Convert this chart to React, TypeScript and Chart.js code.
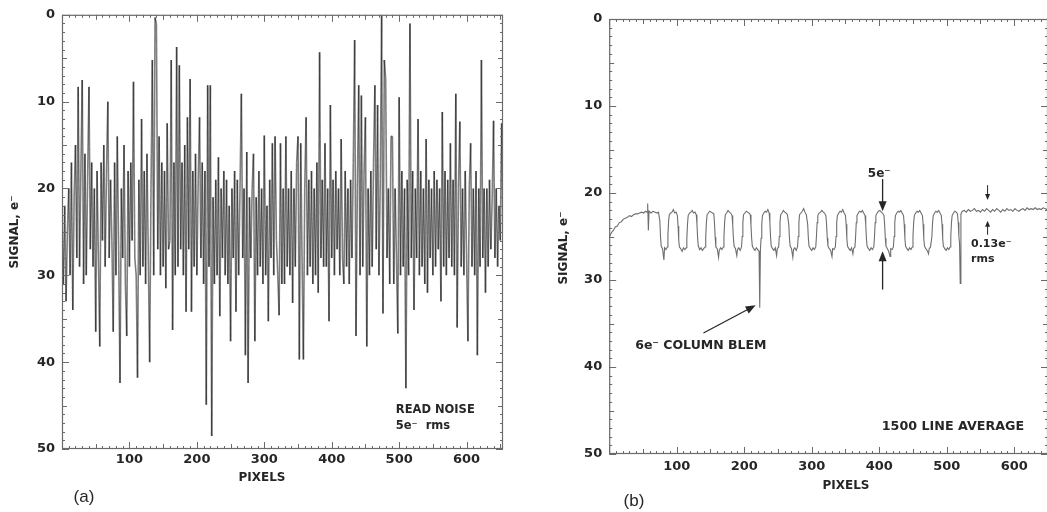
import React, { useEffect, useRef } from "react";
import { Chart, registerables } from "chart.js";

Chart.register(...registerables);

// ---------- DATA ----------
// (a) read noise: one value every PIXEL_STEP pixels, starting at pixel 0
const PIXEL_STEP = 2;
const noiseSignal: number[] = [
  24, 31, 22, 33, 25, 20, 30, 17, 34, 21,
  15, 28, 8.3, 29, 18, 7.5, 31, 16, 30, 19,
  8.3, 27, 17, 29, 20, 36.5, 18, 28, 38.2, 17,
  26, 15, 29, 18, 10, 28, 19, 26, 36.5, 17,
  30, 14, 27, 42.4, 20, 28, 15, 31, 37, 18,
  29, 17, 26, 7.7, 28, 30, 41.8, 19, 30, 12,
  29, 18, 31, 16, 28, 40, 20, 5.2, 30, 0.3,
  1, 27, 14, 30, 17, 29, 18, 31.5, 12.5, 27,
  26, 5.2, 36.3, 17, 30, 3.7, 29, 5.8, 27, 17,
  30, 15, 34.2, 11.8, 27, 7.4, 34.2, 18, 29, 16,
  30, 19, 11.8, 28, 17, 31, 18, 44.9, 8.1, 29,
  8.1, 48.5, 21, 31, 19, 30, 16.4, 34.7, 20, 28,
  18, 30, 19, 31, 22, 37.6, 20, 28, 18, 34.2,
  19, 30, 20, 9.1, 28, 20, 39.2, 15.8, 42.4, 21,
  28, 20, 16, 37.6, 21, 30, 18, 29, 20, 31,
  13.9, 30, 22, 35.3, 19, 28, 14.8, 30, 14, 26,
  30, 34.6, 14.8, 31, 20, 31, 14, 29, 20, 30,
  18, 33.2, 20, 29, 17, 14, 39.7, 14.8, 28, 39.7,
  20, 11.8, 30, 19, 29, 18, 31, 20, 30, 17,
  32, 4.3, 28, 19, 29, 14.8, 29, 20, 35.3, 10.4,
  28, 19, 30, 18, 27, 20, 30, 14.3, 28, 31,
  18, 29, 20, 31, 19, 28, 17, 2.9, 37, 20,
  8.1, 30, 9.3, 29, 18, 11.8, 38.2, 20, 30, 18,
  29, 17, 8.1, 27, 10.4, 30, 19, 0, 34.4, 5.2,
  7.4, 28, 20, 31, 14, 14, 31, 20, 28, 36.7,
  9.5, 30, 18, 29, 20, 43, 19, 30, 1, 28,
  18, 34, 20, 28, 12, 30, 18, 29, 20, 31,
  14.3, 32, 19, 28, 20, 30, 18, 29, 19, 27,
  20, 33, 11.2, 29, 18, 30, 19, 28, 14.8, 29,
  19, 30, 9.1, 36, 20, 12.3, 29, 20, 30, 18,
  28, 37.6, 20, 14.8, 29, 20, 30, 18, 39.2, 20,
  29, 5.2, 28, 20, 32, 20, 29, 19, 27, 21,
  12.2, 28, 20, 29, 22, 26, 12.5, 25,
];

// (b) 1500 line average: [pixel, signal e-]
const signalTrace: [number, number][] = [
  [0, 25.1], [3, 24.6], [6, 24.3], [9, 23.9], [12, 23.8], [15, 23.4], [18, 23.3], [21, 23.0],
  [24, 22.9], [27, 22.8], [30, 22.6], [33, 22.7], [36, 22.5], [39, 22.4], [42, 22.4], [45, 22.3],
  [48, 22.2], [51, 22.3], [54, 22.1], [56, 22.2], [57, 21.2], [58, 24.3], [59, 22.1], [62, 22.3],
  [65, 22.1], [68, 22.2], [71, 22.3], [73, 22.2],
  [75, 23.2], [76, 25.0], [77, 26.1], [79, 26.4], [81, 27.7], [82, 26.3], [84, 26.5], [86, 26.2], [87, 24.8], [88, 23.2], [89, 22.5],
  [91, 22.3], [93, 22.2], [95, 21.9], [97, 22.3], [99, 22.2], [101, 22.6], [102, 23.8], [103, 25.4], [104, 26.2],
  [106, 26.4], [108, 26.7], [110, 26.3], [112, 26.5], [114, 26.3], [115, 25.2], [116, 23.6], [117, 22.6],
  [119, 22.3], [121, 22.2], [123, 22.0], [125, 22.3], [127, 22.2], [129, 22.5], [130, 23.6], [131, 25.2], [132, 26.1],
  [134, 26.5], [136, 26.3], [138, 26.6], [140, 26.4], [142, 26.2], [143, 25.0], [144, 23.4], [145, 22.5],
  [147, 22.3], [149, 22.1], [151, 22.2], [153, 22.3], [155, 22.4], [156, 23.5], [157, 25.1], [158, 26.2],
  [160, 26.4], [162, 27.4], [163, 26.6], [165, 26.3], [167, 26.5], [169, 26.2], [170, 25.0], [171, 23.4], [172, 22.5],
  [174, 22.3], [176, 22.0], [178, 22.2], [180, 22.3], [182, 22.6], [183, 23.7], [184, 25.2], [185, 26.1],
  [187, 26.4], [189, 27.2], [190, 26.5], [192, 26.3], [194, 26.6], [196, 26.2], [197, 25.0], [198, 23.4], [199, 22.5],
  [201, 22.3], [203, 22.1], [205, 22.2], [207, 22.3], [209, 22.5], [210, 23.7], [211, 25.2], [212, 26.1],
  [214, 26.4], [216, 26.6], [218, 26.3], [220, 26.5], [222, 26.7], [223, 33.2], [224, 26.5], [225, 25.2], [226, 23.6], [227, 22.6],
  [229, 22.3], [231, 22.1], [233, 22.2], [235, 21.9], [237, 22.3], [238, 23.4], [239, 25.0], [240, 26.1],
  [242, 26.4], [244, 26.6], [246, 26.3], [248, 27.2], [249, 26.4], [251, 26.2], [252, 25.0], [253, 23.4], [254, 22.5],
  [256, 22.3], [258, 22.0], [260, 22.2], [262, 22.3], [264, 22.5], [266, 23.6], [267, 25.2], [268, 26.1],
  [270, 26.4], [272, 27.4], [273, 26.5], [275, 26.3], [277, 26.6], [279, 26.2], [280, 25.0], [281, 23.4], [282, 22.5],
  [284, 22.3], [286, 22.1], [288, 21.8], [290, 22.2], [292, 22.5], [294, 23.6], [295, 25.2], [296, 26.1],
  [298, 26.4], [300, 26.6], [302, 26.3], [304, 26.5], [306, 26.2], [307, 25.0], [308, 23.4], [309, 22.6],
  [311, 22.3], [313, 22.2], [315, 22.0], [317, 22.2], [319, 22.3], [321, 22.6], [322, 23.6], [323, 25.2], [324, 26.1],
  [326, 26.4], [328, 26.6], [330, 27.3], [331, 26.4], [333, 26.5], [335, 26.2], [336, 25.0], [337, 23.4], [338, 22.6],
  [340, 22.3], [342, 22.1], [344, 22.2], [346, 21.9], [348, 22.3], [350, 22.6], [351, 23.6], [352, 25.2], [353, 26.1],
  [355, 26.4], [357, 26.6], [359, 26.3], [361, 27.0], [362, 26.4], [364, 26.2], [365, 25.0], [366, 23.4], [367, 22.6],
  [369, 22.3], [371, 22.1], [373, 22.2], [375, 22.0], [377, 22.3], [379, 22.6], [380, 23.6], [381, 25.2], [382, 26.1],
  [384, 26.4], [386, 26.6], [388, 26.3], [390, 26.5], [392, 26.2], [393, 25.0], [394, 23.4], [395, 22.6],
  [397, 22.3], [399, 22.1], [401, 22.0], [403, 22.2], [405, 22.3], [407, 22.6], [408, 23.6], [409, 25.2], [410, 26.1],
  [412, 26.4], [414, 26.7], [416, 27.3], [417, 26.4], [419, 26.5], [421, 26.2], [422, 25.0], [423, 23.4], [424, 22.6],
  [426, 22.3], [428, 22.1], [430, 22.2], [432, 22.0], [434, 22.3], [436, 22.6], [437, 23.6], [438, 25.2], [439, 26.1],
  [441, 26.4], [443, 26.6], [445, 26.3], [447, 26.5], [449, 26.2], [450, 25.0], [451, 23.4], [452, 22.6],
  [454, 22.3], [456, 22.1], [458, 22.2], [460, 22.0], [462, 22.3], [464, 22.6], [465, 23.6], [466, 25.2], [467, 26.1],
  [469, 26.4], [471, 26.6], [473, 27.0], [474, 26.4], [476, 26.2], [478, 25.0], [479, 23.4], [480, 22.6],
  [482, 22.3], [484, 22.1], [486, 22.2], [488, 22.0], [490, 22.3], [492, 22.6], [493, 23.6], [494, 25.2], [495, 26.1],
  [497, 26.4], [499, 26.6], [501, 26.3], [503, 26.5], [505, 26.2], [506, 25.0], [507, 23.4], [508, 22.6],
  [510, 22.3], [512, 22.1], [514, 22.2], [516, 22.4], [517, 23.4], [518, 25.0], [519, 25.8], [520, 30.4], [521, 22.4],
  [523, 22.1], [526, 22.0], [529, 22.2], [532, 21.9], [535, 22.1], [538, 22.0], [541, 21.8], [544, 22.1],
  [547, 22.0], [550, 22.2], [553, 21.9], [556, 22.1], [559, 21.8], [562, 22.0], [565, 22.2], [568, 21.9],
  [571, 22.1], [574, 21.8], [577, 22.0], [580, 22.2], [583, 21.9], [586, 22.1], [589, 21.8], [592, 22.0],
  [595, 21.9], [598, 22.1], [601, 21.8], [604, 22.0], [607, 22.1], [610, 21.9], [613, 21.8], [616, 22.0],
  [619, 21.7], [622, 21.9], [625, 21.8], [628, 21.9], [631, 21.7], [634, 21.9], [637, 21.8], [640, 21.9],
  [643, 21.7], [646, 21.8], [649, 21.9], [652, 21.8],
];

const xTickLabels = [100, 200, 300, 400, 500, 600];
const yTickLabels = [0, 10, 20, 30, 40, 50];
const noiseXMax = 654;
const signalXMax = 650;
const yMax = 50;

// ---------- STYLE ----------
const FONT = "'DejaVu Sans', 'Liberation Sans', sans-serif";
const INK = "#262626";

function drawArrow(ctx: CanvasRenderingContext2D, x1: number, y1: number, x2: number, y2: number, head = 9, half = 3.5) {
  const a = Math.atan2(y2 - y1, x2 - x1);
  const c = Math.cos(a), s = Math.sin(a);
  ctx.beginPath();
  ctx.moveTo(x1, y1);
  ctx.lineTo(x2 - c * head * 0.8, y2 - s * head * 0.8);
  ctx.stroke();
  ctx.beginPath();
  ctx.moveTo(x2, y2);
  ctx.lineTo(x2 - c * head + s * half, y2 - s * head - c * half);
  ctx.lineTo(x2 - c * head - s * half, y2 - s * head + c * half);
  ctx.closePath();
  ctx.fill();
}

function verticalText(ctx: CanvasRenderingContext2D, text: string, cx: number, cy: number) {
  ctx.save();
  ctx.translate(cx, cy);
  ctx.rotate(-Math.PI / 2);
  ctx.textAlign = "center";
  ctx.textBaseline = "middle";
  ctx.fillText(text, 0, 0);
  ctx.restore();
}

function framePlugin(id: string, extra: (ctx: CanvasRenderingContext2D, chart: any) => void) {
  return {
    id,
    afterDraw(chart: any) {
      const { ctx, chartArea: a } = chart;
      const x = chart.scales.x, y = chart.scales.y;
      ctx.save();
      ctx.strokeStyle = "#6a6a6a";
      ctx.lineWidth = 1.2;
      ctx.strokeRect(a.left + 0.5, a.top + 0.5, a.right - a.left - 1, a.bottom - a.top - 1);
      ctx.lineWidth = 1;
      ctx.beginPath();
      for (let v = 0; v <= x.max; v += 10) {
        const px = Math.round(x.getPixelForValue(v)) + 0.5;
        const len = v % 100 === 0 ? 7 : v % 50 === 0 ? 5 : 3;
        ctx.moveTo(px, a.bottom);
        ctx.lineTo(px, a.bottom - len);
        ctx.moveTo(px, a.top);
        ctx.lineTo(px, a.top + len);
      }
      for (let v = 0; v <= yMax; v += 1) {
        const py = Math.round(y.getPixelForValue(v)) + 0.5;
        const len = v % 10 === 0 ? 7 : v % 5 === 0 ? 5 : 3;
        ctx.moveTo(a.left, py);
        ctx.lineTo(a.left + len, py);
        ctx.moveTo(a.right, py);
        ctx.lineTo(a.right - len, py);
      }
      ctx.stroke();
      ctx.fillStyle = INK;
      ctx.strokeStyle = INK;
      extra(ctx, chart);
      ctx.restore();
    },
  };
}

function scalesFor(xMax: number, yWidth: number, xHeight: number, xPad: number) {
  const tickFont = { family: FONT, weight: "bold" as const, size: 13 };
  return {
    x: {
      type: "linear" as const,
      min: 0,
      max: xMax,
      afterFit: (s: any) => { s.height = xHeight; },
      afterBuildTicks: (s: any) => { s.ticks = xTickLabels.map((v) => ({ value: v })); },
      grid: { display: false, drawTicks: false },
      border: { display: false },
      ticks: { padding: xPad, font: tickFont, color: INK, maxRotation: 0, autoSkip: false },
    },
    y: {
      type: "linear" as const,
      reverse: true,
      min: 0,
      max: yMax,
      afterFit: (s: any) => { s.width = yWidth; },
      afterBuildTicks: (s: any) => { s.ticks = yTickLabels.map((v) => ({ value: v })); },
      grid: { display: false, drawTicks: false },
      border: { display: false },
      ticks: { padding: 7, font: tickFont, color: INK, autoSkip: false },
    },
  };
}

export default function App() {
  const leftRef = useRef<HTMLCanvasElement>(null);
  const rightRef = useRef<HTMLCanvasElement>(null);

  useEffect(() => {
    const left = new Chart(leftRef.current as HTMLCanvasElement, {
      type: "line",
      data: {
        datasets: [
          {
            data: noiseSignal.map((v, i) => ({ x: i * PIXEL_STEP, y: v })),
            borderColor: "rgba(0,0,0,0.5)",
            borderWidth: 1.6,
            pointRadius: 0,
            tension: 0,
            segment: {
              borderColor: (c: any) => (c.p0DataIndex % 2 ? "rgba(0,0,0,0.5)" : "rgba(0,0,0,0.501)"),
            },
          },
        ],
      },
      options: {
        animation: false,
        responsive: false,
        maintainAspectRatio: false,
        events: [],
        layout: { padding: { left: 0, top: 14, right: 37, bottom: 0 } },
        plugins: { legend: { display: false }, tooltip: { enabled: false } },
        scales: scalesFor(noiseXMax, 62, 63, 3) as any,
      },
      plugins: [
        framePlugin("frameA", (ctx, chart) => {
          const { x, y } = chart.scales;
          ctx.font = `bold 11.5px ${FONT}`;
          ctx.textAlign = "left";
          ctx.textBaseline = "alphabetic";
          ctx.fillText("READ NOISE", x.getPixelForValue(495), y.getPixelForValue(45.9));
          ctx.fillText("5e\u207B  rms", x.getPixelForValue(495), y.getPixelForValue(47.7));
          ctx.font = `bold 12px ${FONT}`;
          ctx.textAlign = "center";
          ctx.textBaseline = "middle";
          ctx.fillText("PIXELS", 262, 477.5);
          verticalText(ctx, "SIGNAL, e\u207B", 15, 232);
          ctx.font = `17px 'Liberation Sans', Arial, sans-serif`;
          ctx.fillText("(a)", 84, 497);
        }),
      ],
    } as any);

    const right = new Chart(rightRef.current as HTMLCanvasElement, {
      type: "line",
      data: {
        datasets: [
          {
            data: signalTrace.map(([px, s]) => ({ x: px, y: s })),
            borderColor: "#6e6e6e",
            borderWidth: 1.1,
            pointRadius: 0,
            tension: 0,
          },
        ],
      },
      options: {
        animation: false,
        responsive: false,
        maintainAspectRatio: false,
        events: [],
        layout: { padding: { left: 0, top: 19, right: 12, bottom: 0 } },
        plugins: { legend: { display: false }, tooltip: { enabled: false } },
        scales: scalesFor(signalXMax, 69.2, 58, 5) as any,
      },
      plugins: [
        framePlugin("frameB", (ctx, chart) => {
          const { x, y } = chart.scales;
          ctx.lineWidth = 1.3;
          // 5e- amplitude arrows
          ctx.font = `bold 12px ${FONT}`;
          ctx.textAlign = "center";
          ctx.textBaseline = "alphabetic";
          ctx.fillText("5e\u207B", x.getPixelForValue(400), y.getPixelForValue(18.2));
          drawArrow(ctx, x.getPixelForValue(405), y.getPixelForValue(18.4), x.getPixelForValue(405), y.getPixelForValue(22.1), 10, 4);
          drawArrow(ctx, x.getPixelForValue(405), y.getPixelForValue(31.1), x.getPixelForValue(405), y.getPixelForValue(26.7), 10, 4);
          // rms arrows
          ctx.lineWidth = 1;
          drawArrow(ctx, x.getPixelForValue(560.5), y.getPixelForValue(19.1), x.getPixelForValue(560.5), y.getPixelForValue(20.8), 6, 2.5);
          drawArrow(ctx, x.getPixelForValue(560.5), y.getPixelForValue(24.8), x.getPixelForValue(560.5), y.getPixelForValue(23.2), 6, 2.5);
          ctx.font = `bold 11px ${FONT}`;
          ctx.textAlign = "left";
          ctx.fillText("0.13e\u207B", x.getPixelForValue(536), y.getPixelForValue(26.2));
          ctx.fillText("rms", x.getPixelForValue(536), y.getPixelForValue(27.9));
          // column blem
          ctx.font = `bold 12.5px ${FONT}`;
          ctx.fillText("6e\u207B COLUMN BLEM", x.getPixelForValue(38.5), y.getPixelForValue(37.9));
          ctx.lineWidth = 1.2;
          drawArrow(ctx, x.getPixelForValue(139.6), y.getPixelForValue(36.1), x.getPixelForValue(217), y.getPixelForValue(32.9), 10, 4);
          // caption
          ctx.font = `bold 12.7px ${FONT}`;
          ctx.fillText("1500 LINE AVERAGE", x.getPixelForValue(403.7), y.getPixelForValue(47.2));
          // axis titles
          ctx.font = `bold 12px ${FONT}`;
          ctx.textAlign = "center";
          ctx.textBaseline = "middle";
          ctx.fillText("PIXELS", 306, 485.5);
          verticalText(ctx, "SIGNAL, e\u207B", 24, 248);
          ctx.font = `17px 'Liberation Sans', Arial, sans-serif`;
          ctx.fillText("(b)", 94, 501);
        }),
      ],
    } as any);

    return () => {
      left.destroy();
      right.destroy();
    };
  }, []);

  return (
    <div style={{ position: "fixed", left: 0, top: 0, width: 1047, height: 512, overflow: "hidden", background: "#fff" }}>
      <canvas ref={leftRef} width={540} height={512} style={{ position: "absolute", left: 0, top: 0, width: 540, height: 512 }} />
      <canvas ref={rightRef} width={520} height={512} style={{ position: "absolute", left: 540, top: 0, width: 520, height: 512 }} />
    </div>
  );
}
